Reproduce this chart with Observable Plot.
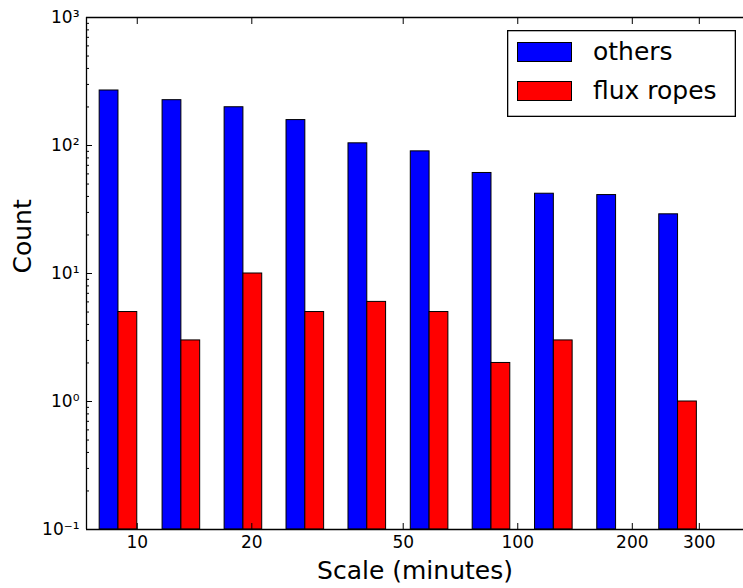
<!DOCTYPE html>
<html><head><meta charset="utf-8">
<script src="https://cdn.jsdelivr.net/npm/d3@7"></script>
<script src="https://cdn.jsdelivr.net/npm/@observablehq/plot@0.6"></script>
<style>
body{margin:0;background:#fff;}
#wrap{position:relative;width:743px;height:588px;font-family:"DejaVu Sans",sans-serif;overflow:hidden;}
#legend{position:absolute;left:507px;top:30px;}
</style></head><body><div id="wrap"></div>
<script>
// Data
const binCenters = [8.925, 13.06, 19.01, 27.65, 40.23, 58.65, 85.3, 124.4, 181.3, 263.8];
const others = [269, 226, 199, 158, 104, 90, 61, 42, 41, 29];
const fluxRopes = [5, 3, 10, 5, 6, 5, 2, 3, 0, 1];
const seriesNames = ["others", "flux ropes"];
const seriesColors = ["#0000ff", "#ff0000"];
const xTicks = [10, 20, 50, 100, 200, 300];
const yTicks = [0.1, 1, 10, 100, 1000];
const yTickLabels = ["10\u207B\u00B9", "10\u2070", "10\u00B9", "10\u00B2", "10\u00B3"];
const xDomain = [7.355, 392];
const yDomain = [0.1, 1000];
const barFactor = 1.1205; // half-width of each bar in log space (multiplicative)

const yMinor = d3.range(-1, 3).flatMap(e => d3.range(2, 10).map(m => m * Math.pow(10, e)));

const rows = [];
binCenters.forEach((c, i) => {
  rows.push({series: seriesNames[0], x1: c / barFactor, x2: c, y1: yDomain[0], y2: others[i]});
  if (fluxRopes[i] > 0) rows.push({series: seriesNames[1], x1: c, x2: c * barFactor, y1: yDomain[0], y2: fluxRopes[i]});
});

const blank = () => "";
const chart = Plot.plot({
  width: 743, height: 588,
  marginTop: 17, marginLeft: 86, marginRight: 0, marginBottom: 59,
  style: {fontFamily: '"DejaVu Sans", sans-serif', fontSize: "17px", color: "#000", background: "#fff", overflow: "visible"},
  x: {type: "log", domain: xDomain, axis: null},
  y: {type: "log", domain: yDomain, axis: null},
  color: {domain: seriesNames, range: seriesColors},
  marks: [
    Plot.rect(rows, {x1: "x1", x2: "x2", y1: "y1", y2: "y2", fill: "series", stroke: "#000", strokeWidth: 1}),
    // spines
    Plot.ruleX([xDomain[0]], {stroke: "#000", strokeWidth: 1.3}),
    Plot.ruleY([yDomain[0]], {stroke: "#000", strokeWidth: 1.3}),
    Plot.ruleY([yDomain[1]], {stroke: "#000", strokeWidth: 1.3}),
    // ticks (inward)
    Plot.axisY(yMinor, {anchor: "left", tickSize: -3, tickFormat: blank, label: null, stroke: "#000"}),
    Plot.axisY(yTicks, {anchor: "left", tickSize: -6, tickFormat: blank, label: null, stroke: "#000"}),
    Plot.axisY(yTicks, {anchor: "left", tickSize: 0, tickPadding: 7, tickFormat: d => yTickLabels[yTicks.indexOf(d)], label: null, fontSize: 17, fill: "#000"}),
    Plot.axisX(xTicks, {anchor: "bottom", tickSize: -6, tickFormat: blank, label: null, stroke: "#000"}),
    Plot.axisX(xTicks, {anchor: "top", tickSize: -6, tickFormat: blank, label: null, stroke: "#000"}),
    Plot.axisX(xTicks, {anchor: "bottom", tickSize: 0, tickPadding: 6, label: null, fontSize: 17, fill: "#000"}),
    // axis titles
    Plot.text(["Scale (minutes)"], {frameAnchor: "bottom", dy: 41, lineAnchor: "middle", fontSize: 25, fill: "#000"}),
    Plot.text(["Count"], {frameAnchor: "left", dx: -64, rotate: -90, lineAnchor: "middle", fontSize: 25, fill: "#000"})
  ]
});
const wrap = document.getElementById("wrap");
wrap.appendChild(chart);

// Legend (inside the axes, upper right)
const ns = "http://www.w3.org/2000/svg";
const lg = document.createElementNS(ns, "svg");
lg.setAttribute("id", "legend");
lg.setAttribute("width", 229);
lg.setAttribute("height", 87);
const box = document.createElementNS(ns, "rect");
box.setAttribute("x", 0.65); box.setAttribute("y", 0.65);
box.setAttribute("width", 227.7); box.setAttribute("height", 85.7);
box.setAttribute("fill", "#fff"); box.setAttribute("stroke", "#000"); box.setAttribute("stroke-width", 1.3);
lg.appendChild(box);
seriesNames.forEach((name, i) => {
  const r = document.createElementNS(ns, "rect");
  r.setAttribute("x", 10.5); r.setAttribute("y", 12.5 + i * 39);
  r.setAttribute("width", 54); r.setAttribute("height", 19);
  r.setAttribute("fill", seriesColors[i]); r.setAttribute("stroke", "#000"); r.setAttribute("stroke-width", 1);
  lg.appendChild(r);
  const t = document.createElementNS(ns, "text");
  t.setAttribute("x", 86); t.setAttribute("y", 30 + i * 39);
  t.setAttribute("font-size", 25); t.setAttribute("font-family", '"DejaVu Sans", sans-serif');
  t.textContent = name;
  lg.appendChild(t);
});
wrap.appendChild(lg);
</script>
</body></html>
